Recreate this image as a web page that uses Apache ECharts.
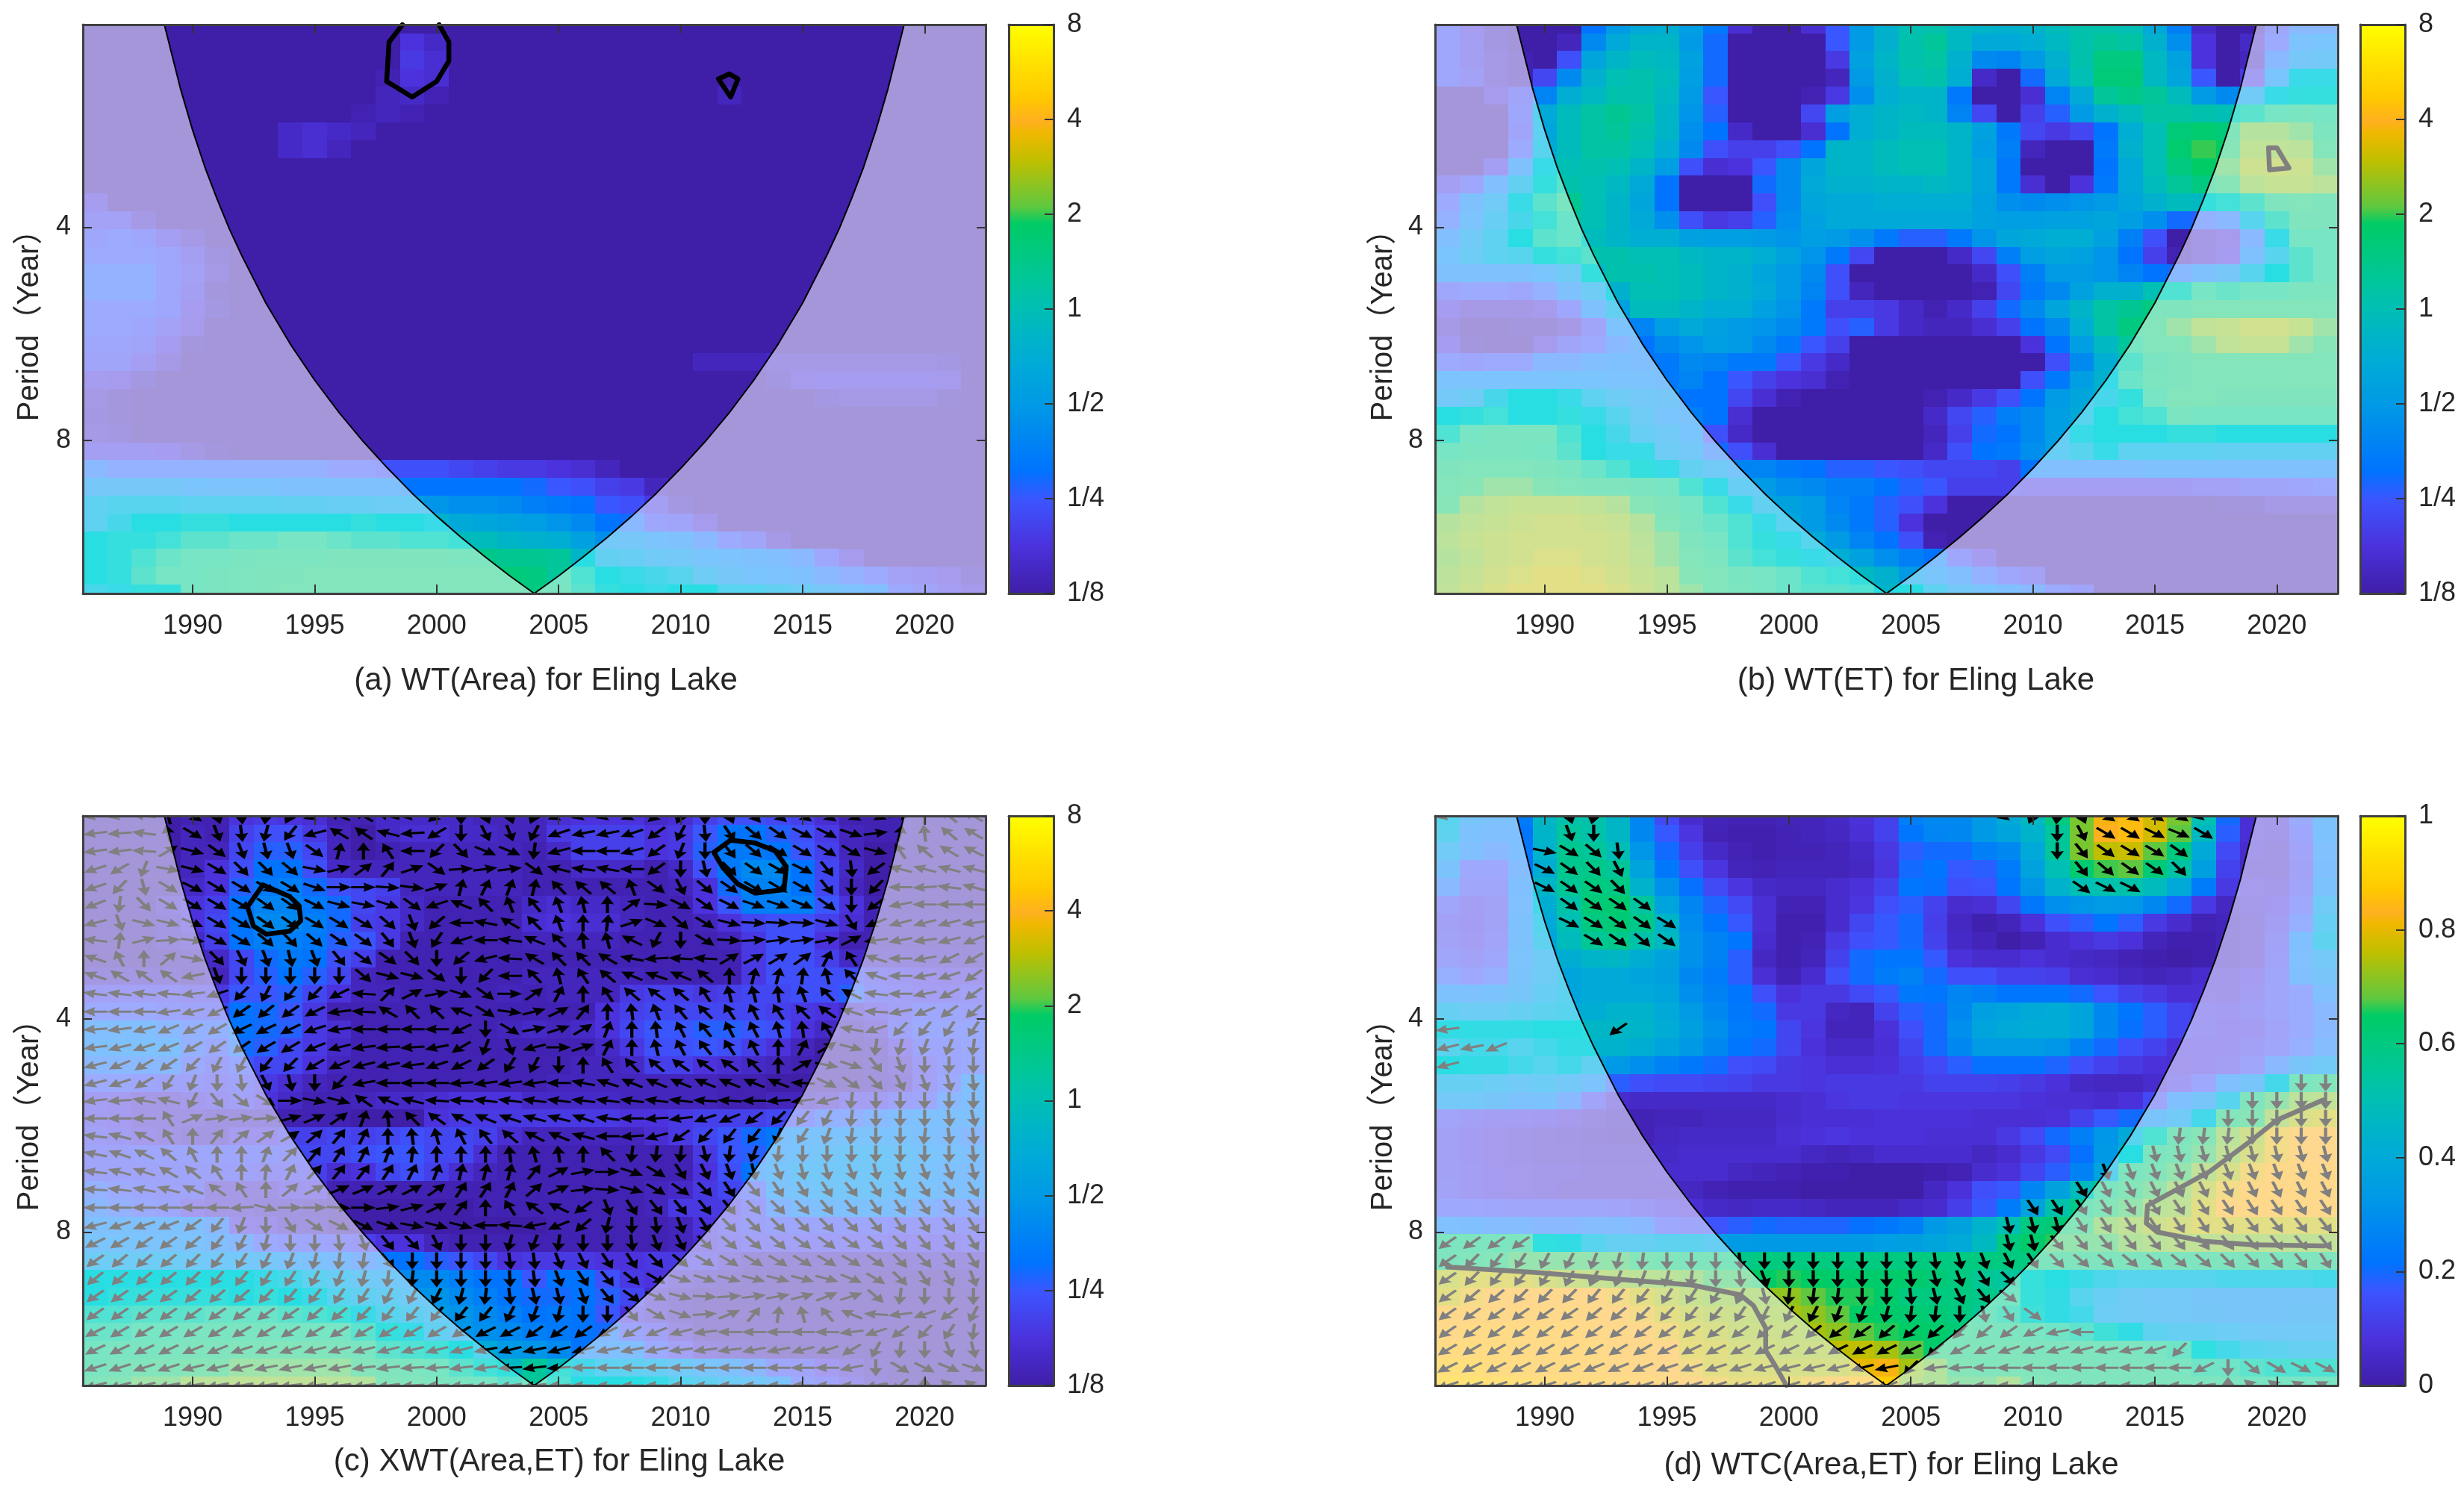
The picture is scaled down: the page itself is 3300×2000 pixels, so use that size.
<!DOCTYPE html>
<html>
<head>
<meta charset="utf-8">
<title>Eling Lake wavelet</title>
<script src="https://cdn.jsdelivr.net/npm/echarts@6/dist/echarts.min.js"></script>
<style>
    html, body { margin: 0; padding: 0; background: #fff; }
    #main { width: 3300px; height: 2000px; }
</style>
</head>
<body>
<div id="main"></div>
<script>
'use strict';

var years = [1986,1987,1988,1989,1990,1991,1992,1993,1994,1995,1996,1997,1998,1999,2000,2001,2002,2003,2004,2005,2006,2007,2008,2009,2010,2011,2012,2013,2014,2015,2016,2017,2018,2019,2020,2021,2022];
var rowPeriods = [2.07,2.19,2.32,2.46,2.61,2.76,2.93,3.10,3.29,3.48,3.69,3.91,4.14,4.39,4.65,4.93,5.22,5.53,5.86,6.21,6.58,6.97,7.39,7.83,8.29,8.79,9.31,9.86,10.45,11.07,11.73,12.43,13.17];
var yearTicks = [1990,1995,2000,2005,2010,2015,2020];
var periodTicks = [4,8];
var powerTicks = ['1/8','1/4','1/2','1','2','4','8'];
var cohTicks = ['0','0.2','0.4','0.6','0.8','1'];

// 影响锥
var coneYears = [1988.84,1989.5,1990,1990.5,1991,1991.5,1992,1993,1994,1995,1996,1997,1998,1999,2000,2001,2002,2003,2004,2005,2006,2007,2008,2009,2010,2011,2012,2013,2014,2015,2016,2016.5,2017,2017.5,2018,2018.5,2019.16];
var conePeriods = [2.07,2.55,2.92,3.29,3.65,4.02,4.38,5.12,5.85,6.58,7.31,8.04,8.77,9.51,10.24,10.97,11.70,12.44,13.17,12.44,11.70,10.97,10.24,9.51,8.77,8.04,7.31,6.58,5.85,5.12,4.38,4.02,3.65,3.29,2.92,2.55,2.07];

// power: tenths of an octave above 1/8 (0 = 1/8, 60 = 8)
var areaLevels = [
    [0,0,0,0,0,0,0,0,0,0,0,0,0,0,0,0,0,0,0,0,0,0,0,0,0,0,0,0,0,0,0,0,0,0,0,0,0],
    [0,0,0,0,0,0,0,0,0,0,0,0,0,5,3,0,0,0,0,0,0,0,0,0,0,0,0,0,0,0,0,0,0,0,0,0,0],
    [0,0,0,0,0,0,0,0,0,0,0,0,0,6,4,0,0,0,0,0,0,0,0,0,0,0,0,0,0,0,0,0,0,0,0,0,0],
    [0,0,0,0,0,0,0,0,0,0,0,0,1,5,4,0,0,0,0,0,0,0,0,0,0,0,0,0,0,0,0,0,0,0,0,0,0],
    [0,0,0,0,0,0,0,0,0,0,0,0,2,3,1,0,0,0,0,0,0,0,0,0,0,0,2,0,0,0,0,0,0,0,0,0,0],
    [0,0,0,0,0,0,0,0,0,0,0,1,2,1,0,0,0,0,0,0,0,0,0,0,0,0,0,0,0,0,0,0,0,0,0,0,0],
    [0,0,0,0,0,0,0,0,3,4,3,2,0,0,0,0,0,0,0,0,0,0,0,0,0,0,0,0,0,0,0,0,0,0,0,0,0],
    [0,0,0,0,0,0,0,0,3,4,2,0,0,0,0,0,0,0,0,0,0,0,0,0,0,0,0,0,0,0,0,0,0,0,0,0,0],
    [0,0,0,0,0,0,0,0,0,0,0,0,0,0,0,0,0,0,0,0,0,0,0,0,0,0,0,0,0,0,0,0,0,0,0,0,0],
    [0,0,0,0,0,0,0,0,0,0,0,0,0,0,0,0,0,0,0,0,0,0,0,0,0,0,0,0,0,0,0,0,0,0,0,0,0],
    [5,0,0,0,0,0,0,0,0,0,0,0,0,0,0,0,0,0,0,0,0,0,0,0,0,0,0,0,0,0,0,0,0,0,0,0,0],
    [7,7,3,0,0,0,0,0,0,0,0,0,0,0,0,0,0,0,0,0,0,0,0,0,0,0,0,0,0,0,0,0,0,0,0,0,0],
    [9,10,9,6,3,0,0,0,0,0,0,0,0,0,0,0,0,0,0,0,0,0,0,0,0,0,0,0,0,0,0,0,0,0,0,0,0],
    [10,10,10,9,6,2,0,0,0,0,0,0,0,0,0,0,0,0,0,0,0,0,0,0,0,0,0,0,0,0,0,0,0,0,0,0,0],
    [11,11,11,9,7,3,0,0,0,0,0,0,0,0,0,0,0,0,0,0,0,0,0,0,0,0,0,0,0,0,0,0,0,0,0,0,0],
    [11,11,11,9,6,1,0,0,0,0,0,0,0,0,0,0,0,0,0,0,0,0,0,0,0,0,0,0,0,0,0,0,0,0,0,0,0],
    [10,10,10,9,5,2,0,0,0,0,0,0,0,0,0,0,0,0,0,0,0,0,0,0,0,0,0,0,0,0,0,0,0,0,0,0,0],
    [10,10,9,7,4,0,0,0,0,0,0,0,0,0,0,0,0,0,0,0,0,0,0,0,0,0,0,0,0,0,0,0,0,0,0,0,0],
    [9,9,8,5,1,0,0,0,0,0,0,0,0,0,0,0,0,0,0,0,0,0,0,0,0,0,0,0,0,0,0,0,0,0,0,0,0],
    [8,8,6,3,0,0,0,0,0,0,0,0,0,0,0,0,0,0,0,0,0,0,0,0,0,2,2,2,3,3,3,3,3,3,3,2,0],
    [5,4,2,0,0,0,0,0,0,0,0,0,0,0,0,0,0,0,0,0,0,0,0,0,0,0,0,0,2,4,5,5,5,5,5,4,0],
    [3,1,0,0,0,0,0,0,0,0,0,0,0,0,0,0,0,0,0,0,0,0,0,0,0,0,0,0,0,0,2,3,3,3,3,1,0],
    [2,1,0,0,0,0,0,0,0,0,0,0,0,0,0,0,0,0,0,0,0,0,0,0,0,0,0,0,0,0,0,0,0,0,0,0,0],
    [3,2,0,0,0,0,0,0,0,0,0,0,0,0,0,0,0,0,0,0,0,0,0,0,0,0,0,0,0,0,0,0,0,0,0,0,0],
    [6,6,6,5,3,1,0,0,0,0,0,0,0,0,0,0,0,0,0,0,0,0,0,0,0,0,0,0,0,0,0,0,0,0,0,0,0],
    [12,11,11,11,11,11,11,11,11,11,10,10,9,9,9,8,7,6,6,5,4,2,0,0,0,0,0,0,0,0,0,0,0,0,0,0,0],
    [17,17,17,17,16,15,15,15,14,14,14,14,14,13,13,13,13,13,12,10,9,7,6,2,0,0,0,0,0,0,0,0,0,0,0,0,0],
    [23,24,24,24,23,23,23,23,22,22,21,21,20,20,19,18,18,17,15,14,13,10,9,6,2,0,0,0,0,0,0,0,0,0,0,0,0],
    [23,25,27,27,28,28,27,27,27,27,27,28,27,27,26,24,23,22,21,19,17,13,12,9,8,4,0,0,0,0,0,0,0,0,0,0,0],
    [27,28,28,29,31,31,32,32,33,33,32,31,31,30,30,29,29,27,26,25,22,18,17,15,14,12,10,8,3,0,0,0,0,0,0,0,0],
    [27,28,30,32,33,33,34,35,35,35,36,36,36,36,36,35,35,34,34,33,27,22,21,19,18,16,15,14,13,12,9,4,0,0,0,0,0],
    [27,28,31,33,33,34,35,36,36,37,37,37,37,37,37,37,37,37,36,33,30,27,26,25,24,20,17,16,15,14,12,11,10,7,6,4,2],
    [25,26,28,28,33,34,35,36,37,37,37,37,37,37,37,37,37,37,36,34,31,28,27,26,27,27,24,24,22,20,17,15,13,10,8,6,4]
];
var etLevels = [
    [9,5,2,0,0,0,13,20,24,25,21,14,4,0,0,4,10,20,26,30,31,28,27,26,27,29,31,31,30,24,15,3,0,0,9,12,12],
    [9,6,2,0,0,2,17,24,27,27,20,12,0,0,0,0,10,20,26,31,33,28,24,24,25,28,31,33,32,26,18,5,0,3,10,15,16],
    [9,6,3,1,0,9,23,27,29,28,22,12,0,0,0,0,6,22,27,31,32,26,17,16,20,26,31,36,36,28,22,5,0,2,12,17,18],
    [9,7,3,1,8,17,26,30,31,29,21,12,0,0,0,0,2,20,26,30,31,25,3,0,12,24,30,37,37,28,23,10,0,6,16,26,26],
    [0,0,4,8,16,25,28,31,31,28,20,10,0,0,0,1,6,18,25,27,27,14,0,0,4,16,24,33,35,33,29,20,17,19,26,28,28],
    [0,0,0,9,24,29,32,34,32,27,19,11,0,0,0,8,21,25,27,28,27,16,8,0,7,11,20,26,29,32,32,31,30,31,33,34,33],
    [0,0,0,8,23,29,32,33,31,27,18,13,3,0,0,4,13,25,27,29,29,27,22,14,8,6,8,13,25,30,37,38,37,41,41,40,35],
    [0,0,0,10,24,29,32,32,30,25,17,9,7,7,9,13,27,27,29,30,30,27,21,15,2,0,0,14,26,30,38,40,39,43,43,42,38],
    [0,0,6,14,26,30,31,30,27,21,9,4,5,10,17,23,27,27,29,30,30,27,23,14,0,0,0,13,24,30,36,39,40,45,46,45,40],
    [6,9,13,22,28,31,30,28,24,13,0,0,0,12,17,24,26,26,27,27,28,27,23,14,4,0,5,14,24,29,33,36,39,42,44,44,42],
    [10,14,19,26,31,34,30,27,23,13,0,0,0,9,17,23,24,24,25,25,25,25,22,18,17,18,19,20,23,26,29,28,29,31,36,38,36],
    [11,15,21,25,29,32,30,27,24,18,9,6,7,11,18,22,24,24,24,24,24,24,22,21,21,22,22,23,21,18,12,11,12,24,31,36,36],
    [13,19,23,27,31,32,29,27,25,25,22,21,21,20,19,21,20,18,14,11,11,14,19,23,24,25,25,22,15,9,0,3,4,12,26,33,33],
    [16,20,23,24,28,29,31,31,30,30,28,27,27,25,22,19,14,8,0,0,0,3,8,15,21,23,22,19,13,7,1,3,5,14,24,31,33],
    [14,14,14,14,16,20,28,31,31,30,29,27,26,23,20,17,9,0,0,0,0,0,3,9,15,20,20,19,16,13,12,14,17,24,27,31,33],
    [9,10,10,9,11,14,20,26,30,30,29,27,26,24,20,16,9,2,0,0,0,0,1,8,14,17,22,26,26,30,30,33,32,33,33,35,35],
    [5,3,3,3,4,9,14,22,29,29,27,25,25,22,19,14,7,7,6,3,1,3,7,12,17,23,27,32,34,36,36,38,38,38,38,38,37],
    [3,0,0,1,1,3,8,15,16,21,24,22,20,19,17,14,9,11,6,3,2,2,4,7,13,17,25,32,36,38,40,43,44,46,46,44,40],
    [5,1,0,0,4,8,10,12,13,17,19,21,20,17,14,10,7,0,0,0,0,0,0,0,5,13,21,28,33,37,38,40,43,44,44,40,39],
    [10,9,10,10,12,12,13,14,13,14,17,16,14,14,10,6,3,0,0,0,0,0,0,0,0,9,17,25,31,34,36,38,38,38,38,38,37],
    [15,15,15,15,15,16,16,15,15,14,16,13,10,7,5,4,1,0,0,0,0,0,0,0,9,14,21,26,32,35,36,37,37,37,37,38,38],
    [18,20,25,27,27,26,23,20,18,17,13,13,8,4,1,0,0,0,0,0,1,3,6,9,13,20,23,25,28,33,37,37,36,36,36,36,36],
    [27,28,29,27,27,28,26,24,20,16,15,13,4,0,0,0,0,0,0,0,3,8,11,15,17,21,24,27,29,30,34,33,33,33,33,33,33],
    [30,33,34,34,34,30,27,25,21,19,16,9,3,0,0,0,0,0,0,0,2,7,12,13,17,21,26,27,27,27,28,28,27,27,27,27,27],
    [33,34,34,34,33,31,27,26,26,20,18,12,9,4,0,0,0,0,0,0,3,9,13,14,18,21,24,26,23,23,23,23,22,22,22,22,22],
    [36,37,37,37,36,34,32,30,28,26,22,19,16,16,14,13,11,11,10,9,8,8,8,7,13,13,13,13,13,14,14,14,14,14,14,14,14],
    [38,39,40,40,39,37,36,36,34,33,30,26,21,20,18,17,15,15,13,11,10,7,7,7,6,6,6,6,6,6,6,7,7,8,8,9,10],
    [39,41,43,44,44,44,43,41,39,36,33,30,26,22,22,20,16,14,11,9,5,0,0,0,0,0,0,0,0,0,0,0,1,1,3,3,3],
    [41,43,44,45,46,46,45,44,41,38,34,32,30,26,23,20,17,14,11,5,0,0,0,0,0,0,0,0,0,0,0,0,0,0,0,0,0],
    [42,44,45,46,46,46,46,45,42,40,36,33,30,28,26,24,20,16,13,9,1,0,0,0,0,0,0,0,0,0,0,0,0,0,0,0,0],
    [41,43,45,46,47,47,46,45,43,40,38,35,31,29,28,26,25,22,18,15,13,9,5,0,0,0,0,0,0,0,0,0,0,0,0,0,0],
    [42,44,46,47,48,48,47,46,44,42,39,37,34,33,32,30,29,28,26,20,16,13,11,9,7,0,0,0,0,0,0,0,0,0,0,0,0],
    [43,45,47,48,48,48,48,47,45,42,40,37,35,33,32,31,31,30,27,27,23,18,16,14,12,10,8,0,0,0,0,0,0,0,0,0,0]
];
var xwtLevels = [
    [0,0,0,0,1,1,5,6,5,4,1,1,3,3,3,3,2,2,2,4,5,5,5,3,4,7,9,9,8,7,4,1,1,1,0,0,0],
    [0,0,0,0,2,1,7,9,9,6,2,0,3,4,4,3,3,2,2,6,7,7,7,5,6,10,13,13,11,9,6,2,1,1,0,0,0],
    [0,0,0,0,2,2,8,11,11,8,2,0,1,2,2,2,2,2,1,3,7,7,7,5,6,11,14,14,13,10,7,2,0,0,0,0,0],
    [0,0,0,0,2,5,9,13,13,9,3,2,2,2,2,2,2,2,1,1,3,3,3,1,3,9,14,17,17,13,8,3,0,0,0,0,0],
    [0,0,0,0,3,5,11,14,15,12,9,8,7,2,2,2,2,2,1,1,1,1,1,1,2,5,12,16,16,13,8,2,0,0,0,0,0],
    [0,0,0,3,5,7,13,16,16,14,12,8,6,3,1,1,1,1,3,4,3,3,2,1,1,5,10,15,15,15,10,5,1,0,0,0,0],
    [0,0,0,2,5,8,13,17,17,15,12,7,6,3,1,1,1,1,4,5,4,4,2,1,1,2,5,8,9,9,7,4,1,1,1,1,1],
    [0,0,0,2,3,7,13,15,15,14,11,10,6,1,1,1,1,1,2,2,2,2,1,1,1,1,2,6,9,9,5,1,1,1,1,1,1],
    [0,0,0,0,1,3,8,12,14,13,9,7,1,1,1,1,1,1,1,1,1,1,1,1,1,1,1,6,9,9,7,3,2,2,2,2,1],
    [2,2,2,2,0,2,8,11,13,11,8,2,1,1,1,1,1,1,2,2,2,2,2,1,1,1,1,6,9,9,9,9,7,6,5,4,4],
    [7,7,7,7,6,6,10,10,11,8,5,2,2,1,1,1,1,2,1,2,2,2,6,7,7,6,7,8,8,9,9,11,8,7,6,6,7],
    [10,10,10,9,8,8,13,12,10,6,1,1,1,1,1,1,1,1,1,1,1,5,7,8,8,8,8,8,7,6,5,3,5,7,9,9,8],
    [13,13,13,12,11,11,13,12,11,6,4,1,1,1,1,1,1,2,3,2,3,5,8,10,10,11,11,10,9,5,3,1,3,8,10,10,10],
    [14,14,14,14,11,10,12,11,8,6,3,1,1,1,1,1,1,1,1,1,1,3,6,9,9,10,9,7,5,2,0,0,1,5,9,9,10],
    [12,12,12,12,10,8,10,8,8,5,2,1,1,1,1,1,1,1,1,1,2,2,3,7,7,5,4,3,2,1,0,0,1,3,7,9,10],
    [10,10,9,8,8,7,8,6,4,2,1,1,1,1,1,1,1,1,1,2,2,2,2,2,2,2,1,1,0,0,0,0,1,2,7,10,13],
    [6,5,3,3,4,6,7,5,3,1,1,2,3,3,4,5,5,5,3,3,3,3,2,2,2,2,1,1,2,2,3,6,6,8,9,12,13],
    [6,5,3,3,3,2,2,2,1,1,1,0,0,0,5,6,6,6,6,6,6,6,5,5,6,7,7,7,8,9,11,11,12,13,14,14,14],
    [7,6,4,3,2,2,5,5,7,7,8,7,8,9,8,8,7,4,2,2,2,2,2,4,6,8,10,12,14,15,15,15,15,15,14,13,12],
    [8,8,9,9,9,9,9,9,8,8,8,9,10,10,8,8,4,1,1,1,1,1,1,1,1,6,10,11,15,16,17,18,18,17,16,15,14],
    [8,8,8,8,8,8,8,7,7,7,4,5,8,9,7,4,2,1,1,1,1,1,1,1,1,5,9,13,16,18,18,18,18,17,15,14,13],
    [11,10,9,8,8,3,3,3,5,5,1,1,1,1,1,1,1,1,1,1,1,1,1,2,3,6,8,10,15,16,17,17,17,16,15,14,14],
    [12,11,10,9,5,3,3,2,2,1,0,0,0,0,0,0,1,1,1,1,1,1,1,2,6,6,6,8,12,13,14,14,14,13,12,11,11],
    [14,14,14,14,14,12,5,4,2,2,0,0,0,0,0,0,0,0,0,1,1,1,1,1,2,5,7,8,9,9,9,9,9,8,8,8,8],
    [16,16,15,15,15,13,12,10,9,9,8,7,5,5,2,1,1,1,1,1,1,1,1,1,2,4,6,7,7,7,7,7,7,6,6,6,7],
    [20,20,20,20,19,18,18,17,15,14,13,12,13,13,11,10,8,5,6,6,6,5,5,6,6,6,3,1,1,1,1,1,1,1,2,2,2],
    [27,27,27,27,27,27,27,26,25,23,21,19,18,17,17,15,13,13,10,13,13,9,6,5,3,2,1,0,0,0,0,0,0,0,0,0,1],
    [27,28,28,28,28,28,27,28,27,26,24,22,21,19,19,17,15,13,12,12,13,11,8,3,1,0,0,0,0,0,0,0,0,0,0,0,0],
    [30,30,31,31,31,32,32,32,31,30,29,26,24,22,20,19,17,15,13,14,13,10,5,3,1,0,0,0,0,0,0,0,0,0,0,0,0],
    [32,32,33,33,34,34,34,34,33,33,33,31,28,26,22,19,18,17,15,14,13,12,9,7,3,0,0,0,0,0,0,0,0,0,0,0,0],
    [33,34,34,35,36,36,37,37,37,37,36,34,31,30,29,27,24,20,19,17,13,13,13,10,7,3,2,1,0,0,0,0,0,0,0,0,0],
    [34,36,37,38,39,39,40,40,40,40,40,38,36,35,33,31,29,28,33,29,25,23,22,21,19,16,14,12,9,8,5,3,1,0,0,0,0],
    [37,39,40,40,42,42,43,43,43,43,42,41,38,37,35,34,33,31,33,30,27,27,27,26,24,22,20,18,15,10,8,5,2,0,0,0,0]
];
// coherence x 100
var wtcLevels = [
    [40,28,24,24,46,52,52,45,27,14,6,3,2,2,3,3,5,8,12,25,28,28,33,40,47,60,70,82,85,78,70,50,20,7,7,17,24],
    [38,24,22,22,45,54,52,46,28,17,9,2,1,1,2,3,4,7,12,22,27,28,33,38,44,55,70,83,85,78,68,47,18,7,6,15,24],
    [32,22,20,22,44,57,55,49,32,20,11,5,2,1,2,2,3,5,10,18,20,20,25,28,40,55,70,76,77,68,60,40,14,6,5,13,23],
    [26,16,16,21,42,57,58,55,38,23,15,9,3,2,3,3,3,4,9,20,22,17,18,24,37,50,63,67,68,62,53,36,12,5,5,12,22],
    [20,14,14,22,45,56,60,59,44,31,21,14,9,5,4,4,6,8,12,22,21,15,16,22,32,44,50,51,52,48,40,24,10,7,6,13,26],
    [14,10,12,23,42,52,62,63,54,38,27,19,14,7,2,2,6,9,15,18,12,6,7,13,23,30,32,34,33,28,20,10,4,6,8,16,32],
    [11,9,12,24,40,50,60,62,58,45,29,22,17,7,1,1,6,13,17,20,11,4,1,3,8,15,18,22,18,10,6,2,3,5,10,18,35],
    [12,10,13,24,38,48,56,58,52,47,31,26,22,6,1,2,10,15,17,20,12,5,3,0,2,6,8,10,8,3,1,1,3,5,12,22,38],
    [14,12,15,25,33,42,45,46,42,37,31,26,18,4,1,3,12,20,22,22,17,8,6,6,8,6,5,4,2,1,0,1,3,5,13,23,30],
    [18,16,18,26,33,38,40,40,38,36,28,24,18,7,2,6,15,20,24,26,20,15,15,12,12,11,7,6,4,3,4,6,6,8,14,22,27],
    [24,24,26,28,35,38,40,40,40,38,30,26,22,15,8,10,10,14,17,23,22,27,25,22,22,22,20,16,12,10,7,7,6,10,14,17,22],
    [36,34,34,36,38,40,42,44,44,40,34,28,23,20,10,10,4,3,12,18,20,28,36,38,40,41,38,28,22,18,13,10,9,11,14,17,20],
    [44,44,44,44,45,45,46,46,45,41,36,30,24,22,13,9,3,3,8,15,20,30,38,40,41,41,38,28,21,18,13,10,8,9,13,17,20],
    [40,42,42,40,42,44,44,44,42,38,33,28,22,20,13,8,5,5,7,13,20,28,34,34,34,32,26,20,15,12,8,8,9,11,14,18,21],
    [45,44,44,42,40,42,37,33,30,26,23,20,15,14,10,9,7,7,8,11,14,18,21,21,21,19,15,12,10,8,7,8,10,14,20,27,32],
    [36,36,34,32,34,30,25,18,15,14,14,13,12,10,10,9,10,10,10,10,12,12,12,11,10,8,5,4,4,6,10,16,22,28,42,58,62],
    [30,30,28,24,26,20,13,6,5,5,5,5,5,5,6,7,9,10,10,9,9,9,9,9,8,7,7,6,8,14,22,28,40,60,66,70,72],
    [13,11,10,10,9,7,5,3,2,3,3,4,4,4,6,7,7,7,8,8,8,8,7,7,7,8,12,17,20,26,32,42,62,65,72,78,80],
    [11,9,7,6,5,4,3,2,2,4,5,5,5,5,7,8,9,8,8,8,7,7,7,10,14,20,25,32,40,50,60,65,70,76,82,83,83],
    [11,9,7,6,5,5,4,4,4,5,6,6,6,6,6,4,3,4,6,6,6,6,4,6,10,14,21,33,45,58,62,66,72,78,82,83,83],
    [11,10,8,7,6,6,5,5,5,6,6,6,4,3,2,1,1,0,0,0,1,2,6,8,13,18,26,38,58,62,66,72,78,82,84,84,84],
    [12,10,8,7,6,5,5,5,5,5,4,2,1,1,1,0,0,0,0,0,4,8,15,17,27,37,48,58,64,66,70,78,82,84,84,84,84],
    [16,16,15,14,14,14,14,13,11,9,7,5,4,5,5,4,3,3,3,5,6,11,17,24,37,52,58,64,66,70,72,80,83,84,84,84,84],
    [23,22,21,21,20,20,21,21,20,16,14,16,18,20,19,19,19,21,23,25,33,37,44,50,60,62,64,68,72,76,78,80,80,80,80,80,80],
    [58,58,58,58,46,44,40,36,36,38,38,35,34,33,33,33,33,33,35,36,38,40,47,60,64,66,66,66,68,70,72,72,72,72,72,72,72],
    [60,62,64,66,66,66,66,66,64,62,60,60,58,60,60,60,60,60,60,60,60,60,60,60,60,60,60,60,60,60,60,60,60,60,60,60,60],
    [78,80,80,80,78,76,74,72,71,70,68,66,66,65,66,65,64,64,64,64,62,60,56,54,47,45,43,41,40,40,40,40,41,41,41,41,42],
    [80,82,83,83,83,83,83,82,80,77,74,72,72,72,72,68,66,66,64,60,60,60,58,55,47,44,40,35,33,30,30,28,28,28,28,28,28],
    [84,84,84,84,84,84,84,83,82,80,78,76,75,74,74,72,68,65,64,63,62,60,56,53,48,44,42,34,33,31,30,29,28,28,28,29,29],
    [84,85,85,85,85,85,84,84,83,82,80,78,76,76,75,74,72,68,66,65,64,62,60,58,56,54,52,48,44,38,36,36,34,32,31,31,31],
    [86,86,86,85,85,85,85,84,84,83,81,80,78,77,76,76,76,76,74,68,64,62,62,62,60,60,60,58,58,56,54,46,42,40,38,36,36],
    [88,88,86,86,85,85,85,84,84,83,82,80,79,79,78,78,78,80,82,74,68,64,62,62,62,60,60,60,60,60,58,54,54,52,50,50,50],
    [90,90,89,88,87,86,86,85,85,84,83,82,81,81,81,82,84,86,88,72,68,66,66,68,64,62,60,60,60,60,60,60,58,56,56,55,55]
];

// phase arrows, degrees counter-clockwise from east
var xwtAngles = [
    [190,190,170,100,320,285,275,265,245,200,150,140,160,185,225,270,290,285,250,205,195,195,205,225,250,270,290,305,315,320,320,325,335,5,90,130,140],
    [190,185,170,100,320,285,275,260,240,200,140,135,160,185,220,270,290,285,250,205,195,195,205,225,250,275,295,310,315,325,325,335,10,80,95,130,140],
    [190,190,175,40,340,315,285,280,285,315,80,90,115,180,235,305,330,330,265,200,180,180,200,225,255,270,300,310,320,320,320,320,340,115,130,140,145],
    [205,220,255,345,340,320,305,305,310,345,20,45,60,25,315,5,10,10,315,160,170,165,180,225,270,280,305,315,320,325,300,275,225,160,160,160,160],
    [205,235,280,320,325,320,320,320,320,335,0,0,355,350,25,80,70,75,80,125,130,130,105,315,290,310,315,320,320,320,300,270,235,180,185,170,160],
    [210,265,305,320,320,320,320,315,315,325,340,345,335,315,205,150,125,105,120,105,100,90,45,355,325,315,325,335,335,330,315,270,225,195,180,180,180],
    [200,285,340,340,330,320,320,315,315,320,320,320,310,285,230,180,165,140,125,105,90,85,25,330,310,320,340,355,355,355,340,295,210,200,200,200,190],
    [170,85,20,5,350,325,320,310,305,310,315,315,300,285,245,205,180,170,150,125,95,100,145,250,270,320,355,5,10,10,15,35,190,195,190,200,210],
    [155,110,90,50,345,305,290,285,280,285,300,315,315,305,270,230,200,175,140,125,125,140,165,185,175,175,40,35,40,45,70,115,155,180,195,215,220],
    [155,140,135,135,195,285,270,270,270,270,270,310,340,340,315,270,235,180,125,100,115,130,150,155,150,130,90,80,80,85,100,125,155,180,195,205,225],
    [170,170,170,175,190,205,235,250,240,235,215,175,55,35,15,335,315,0,45,70,90,115,130,135,130,115,100,100,95,105,125,145,170,180,195,215,225],
    [180,180,180,190,200,215,225,230,225,215,190,175,140,125,125,150,320,350,20,35,60,90,95,105,120,125,115,110,115,125,135,155,175,195,210,225,230],
    [185,190,200,210,215,220,215,215,215,205,190,180,180,180,180,215,270,320,15,25,40,75,90,95,110,120,110,110,100,95,115,165,205,235,240,245,245],
    [190,200,205,210,220,225,225,220,220,210,200,190,185,185,195,220,255,285,200,0,25,70,90,100,110,120,115,110,90,70,40,340,265,260,255,255,265],
    [200,210,220,225,235,250,250,240,235,220,210,200,195,190,205,215,225,245,250,270,90,115,125,130,135,135,135,125,90,40,345,335,300,285,270,270,270],
    [200,205,220,245,255,270,275,290,280,270,235,195,180,180,180,185,190,190,190,180,165,155,150,150,150,150,150,150,150,175,325,315,305,290,285,280,275],
    [190,185,165,160,250,300,310,320,0,345,340,135,150,160,175,175,170,170,170,170,170,170,170,170,170,175,175,180,185,190,200,265,270,270,270,270,270],
    [180,180,180,115,30,10,10,5,20,30,45,75,95,125,135,145,150,155,160,160,155,170,180,185,190,205,210,225,235,240,250,265,270,270,270,275,280],
    [170,160,145,115,90,60,50,45,40,50,60,70,90,95,100,110,120,130,145,150,160,180,185,200,225,235,240,240,255,245,255,265,270,270,265,275,275],
    [165,155,145,130,110,90,90,75,55,60,65,70,75,85,90,90,90,95,100,95,90,125,265,265,265,280,265,255,265,270,270,270,270,270,270,270,275],
    [170,160,155,140,130,115,90,85,70,55,60,60,65,70,75,80,80,80,60,35,15,0,335,320,295,290,285,280,285,280,280,285,280,280,285,285,280],
    [175,170,165,160,150,135,115,90,50,35,30,30,35,35,45,65,65,70,50,30,10,355,340,320,315,305,295,300,295,295,295,300,295,295,295,295,295],
    [180,180,180,180,180,180,185,340,0,0,355,0,10,20,35,60,90,115,135,145,225,285,295,300,300,300,300,305,305,305,300,300,295,295,295,295,295],
    [200,205,205,210,225,240,255,270,295,315,325,325,335,345,340,340,180,175,195,210,230,260,270,275,285,295,305,305,305,305,305,305,300,295,295,300,295],
    [215,220,225,225,230,240,250,260,270,270,275,285,300,305,290,270,270,260,255,265,270,270,275,285,290,305,310,310,310,315,315,315,310,305,300,295,295],
    [225,230,230,230,235,240,245,250,255,260,265,265,300,270,270,270,270,275,275,285,290,295,295,305,310,320,320,320,320,320,320,320,315,305,305,300,295],
    [230,230,230,230,235,240,240,245,245,250,255,260,265,265,270,270,270,272,275,285,295,300,310,320,335,335,340,340,340,340,340,330,320,305,295,290,285],
    [225,225,225,225,230,230,230,235,240,240,245,245,250,250,250,260,265,275,280,280,285,300,315,330,340,355,5,10,15,20,30,25,310,265,270,270,270],
    [225,225,225,225,225,225,225,225,225,230,230,235,240,240,240,240,240,250,255,260,270,270,300,320,335,5,30,60,85,100,120,150,175,190,205,225,250],
    [215,220,220,220,220,220,220,220,220,220,220,220,220,220,220,220,215,215,225,225,225,215,220,210,200,190,180,180,180,180,180,190,205,225,235,245,265],
    [215,215,215,215,210,210,205,205,205,200,200,200,200,200,200,200,195,200,195,200,200,195,195,195,190,190,190,195,195,200,205,220,250,265,270,285,280],
    [205,205,205,205,200,200,200,195,195,195,195,190,190,185,185,190,190,185,190,185,180,180,180,180,180,180,180,180,180,180,180,195,270,320,325,330,335],
    [200,200,200,195,195,195,195,195,190,190,190,190,190,185,185,185,190,190,190,185,180,180,180,180,180,180,180,180,180,180,180,180,195,230,90,135,140]
];
// [row, first year, angles]
var wtcArrowRuns = [
    [0,1986,[190]],[0,1991,[285,260]],[0,2009,[195,250,265,290,320,320,320,320,190]],
    [1,1991,[285,270]],[1,2011,[270,290,320,320,325,330,320]],
    [2,1990,[345,320,310,275]],[2,2011,[270,300,315,320,320,315]],
    [3,1990,[325,315,305,290]],[3,2012,[300,310,315,315,305]],
    [4,1990,[325,315,315,305]],[4,2012,[315,325,325]],
    [5,1991,[315,315,315,315]],
    [6,1991,[325,320,315,315,320]],
    [7,1992,[320,315,310,315]],
    [12,1986,[190]],[12,1993,[225]],
    [13,1986,[200,195,210]],
    [14,1986,[200]],
    [15,2021,[270,270]],
    [16,2019,[270,270,270,270]],
    [17,2018,[270,270,270,270,270]],
    [18,2016,[265,265,265,270,270,270,270]],
    [19,2015,[280,280,280,280,280,280,280,280]],
    [20,2013,[285,285,285,285,285,285,285,285,285,285]],
    [21,2012,[295,290,290,290,290,290,290,290,290,290,290]],
    [22,2010,[295,295,295,295,295,295,295,295,295,295,295,295,295]],
    [23,2009,[280,280,280,295,295,295,295,295,295,295,300,300,300,300]],
    [24,1986,[225,225,225,225]],[24,2009,[280,280,300,300,300,300,300,300,300,300,300,300,300,300]],
    [25,1986,[225,235,240,245,250,250,255,260,265,270,270,270,275,270,270,270,270,270,270,272,275,280,285,290,295,305,310,310,310,310,310,310,305,305,300,300,295]],
    [26,1986,[225,235,240,240,245,250,250,255,255,260,265,270,275,285,270,270,270,270,272,275,280,285,295,305]],
    [27,1986,[225,230,230,235,235,235,240,240,240,245,245,245,250,280,265,265,265,270,270,275,280,290,300,315]],
    [28,1986,[225,225,225,225,225,225,230,230,235,235,240,240,245,250,250,250,255,255,260,265,265,270,280,295,315]],
    [29,1986,[225,225,225,225,225,225,225,225,225,225,225,225,225,230,230,230,225,225,230,230,230,235,230,225,215,195,180]],
    [30,1986,[220,220,220,220,220,220,220,220,220,215,215,215,215,215,215,215,215,215,215,215,230,215,210,205,205,200,200,195,195,205,235]],
    [31,1986,[215,215,215,215,215,210,210,210,210,205,205,205,205,200,200,200,200,200,195,235,190,185,180,180,180,180,180,180,180,180,180,215,270,310,320,325,325]],
    [32,1986,[205,205,205,205,205,205,205,205,205,205,205,205,205,205,205,205,205,205,205,190,180,180,180,180,180,180,180,180,180,180,180,190,90,135,140,145,150]]
];

// contours
var areaContour1Years = [1998.6,1998.05,1997.95,1999,2000,2000.5,2000.5,2000.1];
var areaContour1Periods = [2.07,2.19,2.49,2.62,2.49,2.33,2.19,2.07];
var areaContour2Years = [2011.55,2012,2012.35,2012.05,2011.55];
var areaContour2Periods = [2.47,2.43,2.47,2.62,2.47];
var etContourYears = [2019.66,2020,2020.5,2019.7,2019.66];
var etContourPeriods = [3.09,3.09,3.30,3.32,3.09];
var xwtContour1Years = [1992.88,1993.98,1994.36,1994.43,1993.98,1993.02,1992.49,1992.25,1992.88];
var xwtContour1Periods = [2.59,2.69,2.77,2.91,3.01,3.04,2.96,2.78,2.59];
var xwtContour2Years = [2012.04,2013.05,2013.88,2014.33,2014.24,2013.05,2012.33,2011.74,2011.36,2012.04];
var xwtContour2Periods = [2.24,2.26,2.32,2.44,2.63,2.66,2.58,2.45,2.33,2.24];
var wtcContour1Years = [1986,1989.6,1993.6,1996,1998,1998.55,1999.05,1999.05,1999.4,1999.9];
var wtcContour1Periods = [8.96,9.12,9.36,9.5,9.81,10.16,10.93,11.75,12.28,13.17];
var wtcContour2Years = [2021.9,2020,2018.85,2017.25,2014.7,2014.65,2015.1,2017,2019,2021.9];
var wtcContour2Periods = [5.21,5.56,5.98,6.57,7.34,7.77,8,8.24,8.34,8.37];

var paletteStops = [0,0.083,0.165,0.215,0.33,0.4,0.45,0.5,0.55,0.65,0.68,0.76,0.81,0.83,0.87,0.93,1];
var darkColors = ['#3f1ea8','#4b32dc','#3c55ff','#0073ff','#0099e6','#00a9d8','#00b4c8','#00bfb4','#00c69a','#00cc66','#60c840','#bfbf00','#f0b800','#ffb020','#ffc800','#ffe000','#ffff00'];
var lightColors = ['#a596da','#a69cf0','#9eaaff','#82bfff','#70ccf5','#58d4ee','#28dee3','#50e2d2','#78e5c4','#88e5b8','#b4e3a0','#cfe190','#e8df85','#ffd88f','#ffdd80','#ffe968','#ffff70'];

var chart = echarts.init(document.getElementById('main'));
var log2 = Math.log2;
var FONT = '"Liberation Sans", "Noto Sans CJK SC", sans-serif';
var TEXT = '#262626';
var EDGE = '#404040';

function pickColor(colors, t) {
    var i = 0;
    while (i < paletteStops.length - 2 && t > paletteStops[i + 1]) i++;
    var f = (t - paletteStops[i]) / (paletteStops[i + 1] - paletteStops[i]);
    return echarts.color.lerp(Math.max(0, Math.min(1, f)), [colors[i], colors[i + 1]]);
}

function pairs(xs, ps) {
    return xs.map(function(x, i) { return [x, log2(ps[i])]; });
}

function conePolygon(api) {
    return coneYears.map(function(y, i) { return api.coord([y, log2(conePeriods[i])]); });
}

// 行边界取相邻两行中点，避免出现缝
function rowEdge(r) {
    var last = rowPeriods.length - 1;
    if (r <= 0) return log2(rowPeriods[0]) - (log2(rowPeriods[1]) - log2(rowPeriods[0])) / 2;
    if (r > last) return log2(rowPeriods[last]) + (log2(rowPeriods[last]) - log2(rowPeriods[last - 1])) / 2;
    return (log2(rowPeriods[r - 1]) + log2(rowPeriods[r])) / 2;
}

function cellSeries(ids, levels, max, colors, clipped) {
    var data = [];
    levels.forEach(function(row, r) {
        row.forEach(function(v, c) { data.push([years[c], r, v]); });
    });
    var cone = null;
    return {
        type: 'custom', xAxisIndex: ids.x, yAxisIndex: ids.y, clip: true, silent: true, animation: false,
        data: data,
        renderItem: function(params, api) {
            var r = api.value(1);
            var a = api.coord([api.value(0) - 0.5, rowEdge(r)]);
            var b = api.coord([api.value(0) + 0.5, rowEdge(r + 1)]);
            var x0 = Math.round(a[0]), y0 = Math.round(a[1]);
            var el = {
                type: 'rect',
                shape: { x: x0, y: y0, width: Math.round(b[0]) - x0, height: Math.round(b[1]) - y0 },
                style: { fill: pickColor(colors, api.value(2) / max) }
            };
            if (clipped) {
                cone = cone || conePolygon(api);
                el.clipPath = { type: 'polygon', shape: { points: cone } };
            }
            return el;
        }
    };
}

// 箭头随面板横向拉伸
var ARROW_X = 33, ARROW_Y = 23;
var ARROW_SHAPE = [[-0.5,-0.065],[0.04,-0.065],[0,-0.27],[0.5,0],[0,0.27],[0.04,0.065],[-0.5,0.065]];

function arrowSeries(ids, data, color, clipped) {
    var cone = null;
    return {
        type: 'custom', xAxisIndex: ids.x, yAxisIndex: ids.y, clip: true, silent: true, animation: false,
        data: data,
        renderItem: function(params, api) {
            var c = api.coord([api.value(0), log2(rowPeriods[api.value(1)])]);
            var t = api.value(2) * Math.PI / 180, cs = Math.cos(t), sn = Math.sin(t);
            var el = {
                type: 'polygon',
                shape: {
                    points: ARROW_SHAPE.map(function(p) {
                        return [c[0] + ARROW_X * (p[0] * cs - p[1] * sn), c[1] - ARROW_Y * (p[0] * sn + p[1] * cs)];
                    })
                },
                style: { fill: color }
            };
            if (clipped) {
                cone = cone || conePolygon(api);
                el.clipPath = { type: 'polygon', shape: { points: cone } };
            }
            return el;
        }
    };
}

function lineSeries(ids, xs, ps, color, width) {
    return {
        type: 'line', xAxisIndex: ids.x, yAxisIndex: ids.y, silent: true, animation: false,
        showSymbol: false, symbol: 'none', clip: true,
        lineStyle: { color: color, width: width, join: 'round', cap: 'round' },
        data: pairs(xs, ps)
    };
}

function gradientSeries(ids, max) {
    var stops = paletteStops.map(function(t, i) { return { offset: t, color: darkColors[i] }; });
    return {
        type: 'custom', xAxisIndex: ids.x, yAxisIndex: ids.y, silent: true, animation: false,
        data: [[0, 0]],
        renderItem: function(params, api) {
            var a = api.coord([0, max]), b = api.coord([1, 0]);
            return {
                type: 'rect',
                shape: { x: a[0], y: a[1], width: b[0] - a[0], height: b[1] - a[1] },
                style: { fill: new echarts.graphic.LinearGradient(0, 1, 0, 0, stops) }
            };
        }
    };
}

var panels = [
    { left: 111, top: 33, height: 762, barLeft: 1351, title: '(a) WT(Area) for Eling Lake', titleX: 731, titleY: 912, nameX: 40, nameY: 426,
      levels: areaLevels, max: 60, ticks: powerTicks,
      contours: [[areaContour1Years, areaContour1Periods, '#000'], [areaContour2Years, areaContour2Periods, '#000']] },
    { left: 1922, top: 33, height: 762, barLeft: 3161, title: '(b) WT(ET) for Eling Lake', titleX: 2566, titleY: 912, nameX: 1853, nameY: 426,
      levels: etLevels, max: 60, ticks: powerTicks,
      contours: [[etContourYears, etContourPeriods, '#808080']] },
    { left: 111, top: 1093, height: 763, barLeft: 1351, title: '(c) XWT(Area,ET) for Eling Lake', titleX: 749, titleY: 1958, nameX: 40, nameY: 1484,
      levels: xwtLevels, max: 60, ticks: powerTicks, arrows: 'xwt',
      contours: [[xwtContour1Years, xwtContour1Periods, '#000'], [xwtContour2Years, xwtContour2Periods, '#000']] },
    { left: 1922, top: 1093, height: 763, barLeft: 3161, title: '(d) WTC(Area,ET) for Eling Lake', titleX: 2533, titleY: 1963, nameX: 1853, nameY: 1484,
      levels: wtcLevels, max: 100, ticks: cohTicks, arrows: 'wtc',
      contours: [[wtcContour1Years, wtcContour1Periods, '#808080'], [wtcContour2Years, wtcContour2Periods, '#808080']] }
];

function arrowData(kind) {
    var out = [];
    if (kind === 'xwt') {
        xwtAngles.forEach(function(row, r) {
            row.forEach(function(a, c) { out.push([years[c], r, a]); });
        });
    } else if (kind === 'wtc') {
        wtcArrowRuns.forEach(function(run) {
            run[2].forEach(function(a, i) { out.push([run[1] + i, run[0], a]); });
        });
    }
    return out;
}

var grids = [], xAxes = [], yAxes = [], series = [], graphics = [];
var plotY0 = log2(rowPeriods[0]), plotY1 = log2(rowPeriods[32]);

panels.forEach(function(p) {
    var plotIndex = grids.length;
    grids.push({ left: p.left, top: p.top, width: 1209, height: p.height, show: false, containLabel: false });
    grids.push({ left: p.barLeft, top: p.top, width: 60, height: p.height, show: false, containLabel: false });

    var ids = { x: xAxes.length, y: yAxes.length };
    var line = { show: true, onZero: false, lineStyle: { color: EDGE, width: 3 } };
    var tick = { show: true, inside: true, length: 12, lineStyle: { color: '#333', width: 2 } };

    xAxes.push({
        type: 'value', gridIndex: plotIndex, position: 'bottom', min: 1985.5, max: 2022.5, z: 10,
        splitLine: { show: false }, axisLine: line,
        axisTick: Object.assign({ customValues: yearTicks }, tick),
        axisLabel: { customValues: yearTicks, margin: 26, fontFamily: FONT, fontSize: 36, color: TEXT, formatter: function(v) { return String(v); } }
    });
    xAxes.push({
        type: 'value', gridIndex: plotIndex, position: 'top', min: 1985.5, max: 2022.5, z: 10,
        splitLine: { show: false }, axisLine: line,
        axisTick: Object.assign({ customValues: yearTicks }, tick), axisLabel: { show: false }
    });
    var periodValues = periodTicks.map(log2);
    yAxes.push({
        type: 'value', gridIndex: plotIndex, position: 'left', min: plotY0, max: plotY1, inverse: true, z: 10,
        splitLine: { show: false }, axisLine: line,
        axisTick: Object.assign({ customValues: periodValues }, tick),
        axisLabel: { customValues: periodValues, margin: 16, padding: [8, 0, 0, 0], fontFamily: FONT, fontSize: 36, color: TEXT, formatter: function(v) { return String(Math.round(Math.pow(2, v))); } }
    });
    yAxes.push({
        type: 'value', gridIndex: plotIndex, position: 'right', min: plotY0, max: plotY1, inverse: true, z: 10,
        splitLine: { show: false }, axisLine: line,
        axisTick: Object.assign({ customValues: periodValues }, tick), axisLabel: { show: false }
    });

    // 色标
    var barIds = { x: xAxes.length, y: yAxes.length };
    var step = p.max / (p.ticks.length - 1);
    var barValues = p.ticks.map(function(t, i) { return i * step; });
    xAxes.push({ type: 'value', gridIndex: plotIndex + 1, min: 0, max: 1, show: false });
    yAxes.push({
        type: 'value', gridIndex: plotIndex + 1, position: 'right', min: 0, max: p.max, z: 10,
        splitLine: { show: false }, axisLine: line,
        axisTick: Object.assign({ customValues: barValues }, tick),
        axisLabel: { customValues: barValues, margin: 18, padding: [8, 0, 0, 0], fontFamily: FONT, fontSize: 36, color: TEXT, formatter: function(v) { return p.ticks[Math.round(v / step)]; } }
    });
    xAxes.push({ type: 'value', gridIndex: plotIndex + 1, position: 'top', min: 0, max: 1, axisLine: line, axisTick: { show: false }, axisLabel: { show: false }, splitLine: { show: false }, z: 10 });
    xAxes.push({ type: 'value', gridIndex: plotIndex + 1, position: 'bottom', min: 0, max: 1, axisLine: line, axisTick: { show: false }, axisLabel: { show: false }, splitLine: { show: false }, z: 10 });
    yAxes.push({ type: 'value', gridIndex: plotIndex + 1, position: 'left', min: 0, max: p.max, axisLine: line, axisTick: { show: false }, axisLabel: { show: false }, splitLine: { show: false }, z: 10 });

    // 先画锥外（浅色），再画锥内
    series.push(cellSeries(ids, p.levels, p.max, lightColors, false));
    var arrows = arrowData(p.arrows);
    if (arrows.length) series.push(arrowSeries(ids, arrows, '#808080', false));
    series.push(cellSeries(ids, p.levels, p.max, darkColors, true));
    if (arrows.length) series.push(arrowSeries(ids, arrows, '#000', true));
    p.contours.forEach(function(k) { series.push(lineSeries(ids, k[0], k[1], k[2], 6.5)); });
    series.push(lineSeries(ids, coneYears, conePeriods, '#000', 2));
    series.push(gradientSeries(barIds, p.max));

    graphics.push({
        type: 'text', x: p.titleX, y: p.titleY, silent: true,
        style: { text: p.title, fontFamily: FONT, fontSize: 42, fill: TEXT, align: 'center', verticalAlign: 'middle' }
    });
    graphics.push({
        type: 'text', x: p.nameX, y: p.nameY, rotation: Math.PI / 2, silent: true,
        style: { text: 'Period（Year）', fontFamily: FONT, fontSize: 40, fill: TEXT, align: 'center', verticalAlign: 'middle' }
    });
});

chart.setOption({
    animation: false,
    backgroundColor: '#fff',
    grid: grids,
    xAxis: xAxes,
    yAxis: yAxes,
    series: series,
    graphic: { elements: graphics }
});
</script>
</body>
</html>
